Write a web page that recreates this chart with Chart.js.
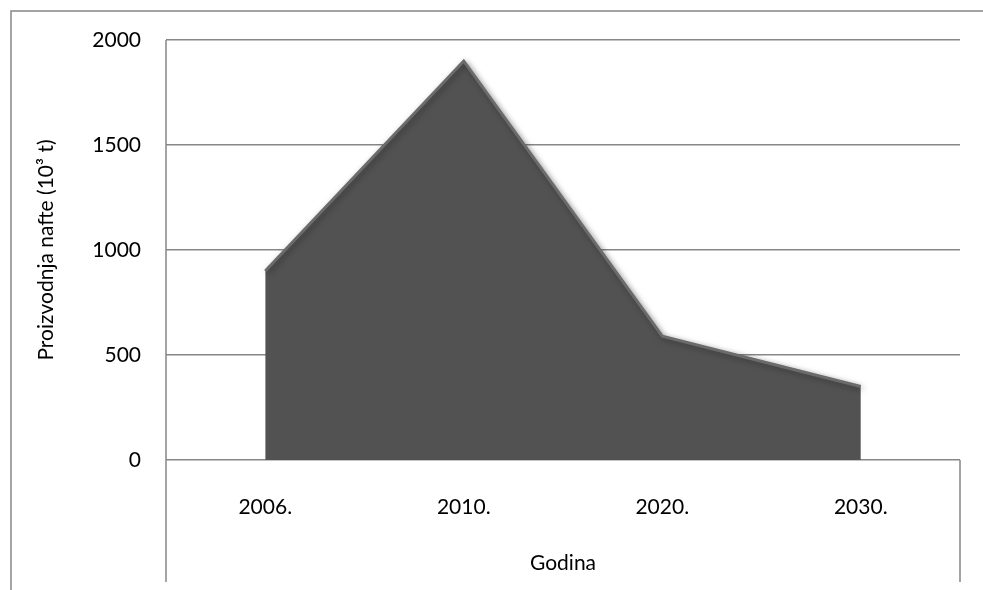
<!DOCTYPE html>
<html>
<head>
  <title>Proizvodnja nafte</title>
  <script src="https://cdn.jsdelivr.net/npm/chart.js@4.4.0/dist/chart.umd.min.js"></script>
  <style>
    body { margin: 0; background: #fff; }
  </style>
</head>
<body>
  <canvas id="myChart" width="983" height="590"></canvas>
  <script>
    const years = ['2006.', '2010.', '2020.', '2030.'];
    const production = [900, 1900, 590, 350];
    const yTicks = [0, 500, 1000, 1500, 2000];

    const lineGrey = '#878787';
    const fontName = 'Lato';

    // outer frame and the two separators running under the category axis
    const frameLines = {
      id: 'frameLines',
      beforeDraw(chart) {
        const c = chart.ctx;
        const area = chart.chartArea;
        c.save();
        c.strokeStyle = lineGrey;
        c.lineWidth = 1.5;
        c.beginPath();
        c.moveTo(11, chart.height);
        c.lineTo(11, 11);
        c.lineTo(chart.width, 11);
        c.stroke();
        c.beginPath();
        c.moveTo(area.left, area.top);
        c.lineTo(area.left, 582);
        c.moveTo(area.right, area.bottom);
        c.lineTo(area.right, 582);
        c.stroke();
        c.restore();
      }
    };

    const areaShadow = {
      id: 'areaShadow',
      beforeDatasetsDraw(chart) {
        const c = chart.ctx;
        c.save();
        c.shadowColor = 'rgba(0,0,0,0.35)';
        c.shadowBlur = 6;
        c.shadowOffsetX = 2;
        c.shadowOffsetY = 2;
      },
      afterDatasetsDraw(chart) {
        chart.ctx.restore();
      }
    };

    var ctx = document.getElementById('myChart').getContext('2d');
    var myChart = new Chart(ctx, {
      type: 'line',
      data: {
        labels: years,
        datasets: [{
          label: 'Proizvodnja nafte',
          data: production,
          fill: 'origin',
          backgroundColor: '#525252',
          borderColor: '#6b6b6b',
          borderWidth: 3,
          tension: 0,
          pointRadius: 0
        }]
      },
      options: {
        responsive: false,
        animation: false,
        layout: {
          padding: { top: 40, right: 23, left: 0, bottom: 0 }
        },
        plugins: {
          legend: { display: false },
          tooltip: { enabled: false }
        },
        scales: {
          x: {
            type: 'category',
            offset: true,
            grid: { display: false },
            border: { display: false },
            ticks: {
              color: '#000',
              padding: 27,
              font: { family: fontName, size: 21 }
            },
            title: {
              display: true,
              text: 'Godina',
              color: '#000',
              font: { family: fontName, size: 21 },
              padding: { top: 0, bottom: 14 }
            },
            afterFit: function (scale) { scale.height = 130; }
          },
          y: {
            min: 0,
            max: 2000,
            afterBuildTicks: function (scale) {
              scale.ticks = yTicks.map(v => ({ value: v }));
            },
            grid: {
              color: lineGrey,
              lineWidth: 1.5,
              drawTicks: false
            },
            border: { display: false },
            ticks: {
              color: '#000',
              padding: 25,
              font: { family: fontName, size: 21 },
              callback: function (value) { return String(value); }
            },
            title: {
              display: true,
              text: 'Proizvodnja nafte (10³ t)',
              color: '#000',
              font: { family: fontName, size: 21 },
              padding: { top: 34, bottom: 0 }
            },
            afterFit: function (scale) { scale.width = 166; }
          }
        }
      },
      plugins: [frameLines, areaShadow]
    });
  </script>
</body>
</html>
